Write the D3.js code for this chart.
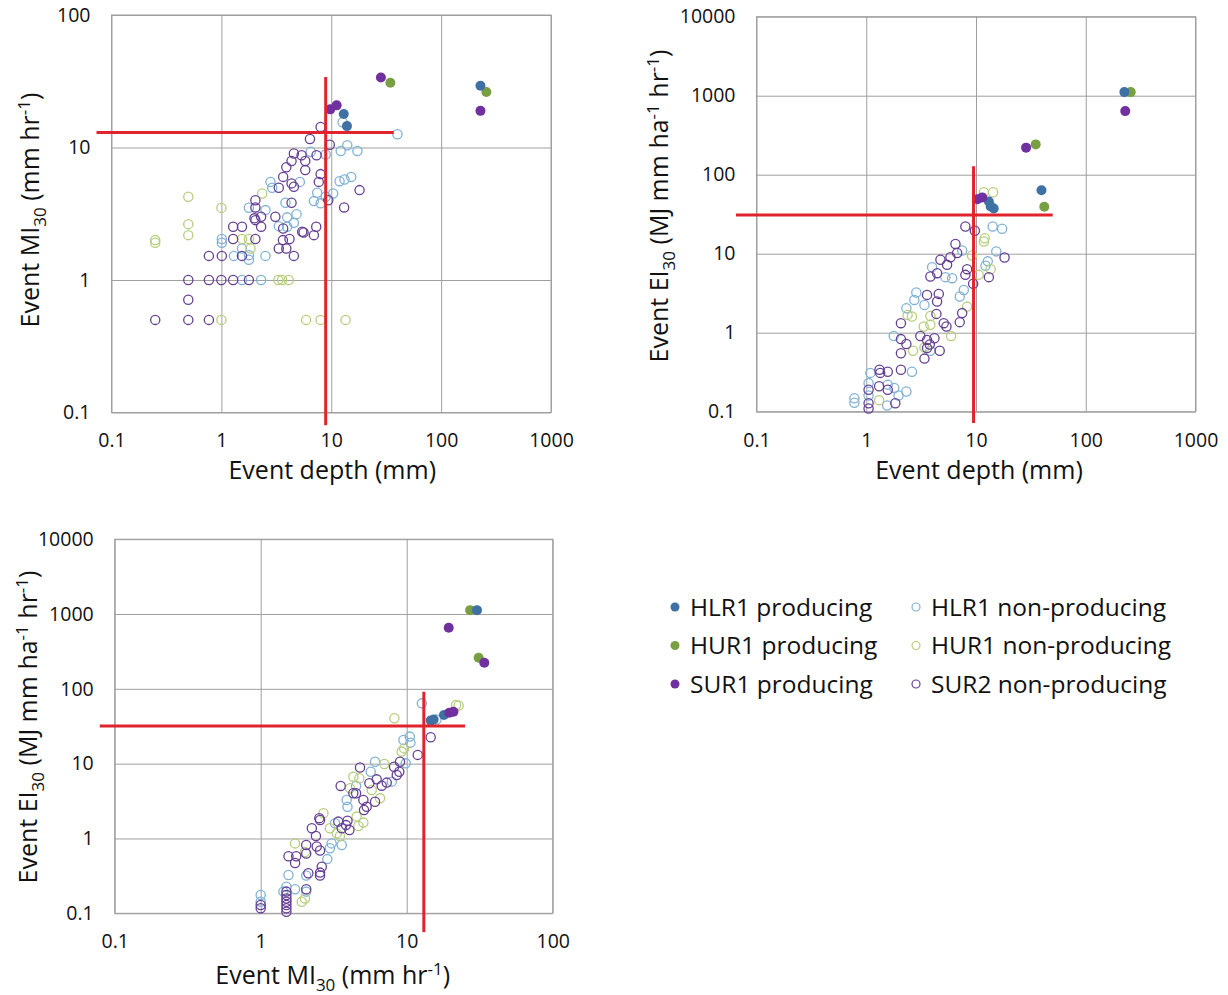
<!DOCTYPE html>
<html>
<head>
<meta charset="utf-8">
<script src="https://cdn.jsdelivr.net/npm/d3@7"></script>
<style>
  html, body { margin: 0; padding: 0; background: #fff; }
  svg text { font-family: "Open Sans", "Noto Sans", sans-serif; fill: #111; }
</style>
</head>
<body>
<svg id="chart" width="1228" height="995"></svg>
<script>
// ---------------- DATA ----------------
const seriesNames = ["HLR1 producing", "HUR1 producing", "SUR1 producing",
                     "HLR1 non-producing", "HUR1 non-producing", "SUR2 non-producing"];

// Panel 1: Event depth (mm) vs Event MI30 (mm hr-1)
const p1_HLR1_prod = [[228,29.2],[13,17.9],[13.9,14.5]];
const p1_HUR1_prod = [[34.5,30.8],[258,26.2]];
const p1_SUR1_prod = [[28.3,33.8],[9.8,19.4],[11.2,20.8],[228,18.9]];
const p1_HLR1_non = [[40,12.6],[12.7,15.5],[14,10.4],[12.2,9.4],[17.3,9.4],[6.5,9.3],[8.9,8.85],[5.18,5.5],[2.8,5.5],[2.9,4.97],[11.9,5.57],[13.2,5.74],[15.2,6.0],[7.45,4.55],[10.4,4.5],[8.9,4.25],[6.95,3.94],[8.0,3.79],[3.83,3.83],[1.78,3.51],[2.52,3.37],[3.33,2.55],[3.97,2.97],[4.83,3.14],[4.57,2.7],[3.97,2.52],[1.01,2.04],[1.01,1.91],[1.54,1.73],[1.78,1.54],[1.78,1.42],[1.3,1.52],[2.52,1.52],[1.54,1.0],[2.3,1.0]];
const p1_HUR1_non = [[2.35,4.5],[1.54,2.04],[1.78,2.04],[1.84,1.73],[3.3,1.0],[3.57,1.0],[4.1,1.0],[1.0,0.5],[5.9,0.5],[8.0,0.5],[13.5,0.5],[0.5,4.25],[0.5,2.64],[0.5,2.18],[0.25,2.0],[0.25,1.91],[1.0,3.5]];
const p1_SUR2_non = [[8.0,14.3],[6.4,11.6],[9.7,10.5],[4.57,9.0],[5.37,8.75],[7.35,8.75],[4.35,7.9],[5.8,7.9],[3.9,7.1],[5.8,6.75],[8.0,6.3],[7.7,5.5],[3.65,6.0],[4.35,5.36],[4.57,5.06],[3.33,4.97],[18.1,4.77],[9.4,4.0],[13.1,3.53],[2.04,4.0],[4.35,3.83],[2.04,3.53],[2.0,2.92],[2.3,3.0],[2.04,2.83],[3.1,3.0],[3.65,2.45],[2.3,2.52],[5.44,2.31],[5.6,2.28],[7.3,2.52],[6.95,2.18],[1.28,2.52],[1.54,2.52],[1.28,2.04],[2.04,2.04],[1.54,1.52],[1.01,1.52],[0.77,1.52],[3.63,2.0],[4.17,2.04],[3.33,1.73],[3.9,1.73],[4.57,1.52],[0.5,1.0],[0.77,1.0],[1.0,1.0],[1.28,1.0],[1.78,1.0],[0.5,0.71],[0.25,0.5],[0.5,0.5],[0.77,0.5]];
const p1_redH = [[0.073,13],[37,13]];
const p1_redV = [[8.9,34],[8.9,0.08]];

// Panel 2: Event depth (mm) vs Event EI30 (MJ mm ha-1 hr-1)
const p2_HLR1_prod = [[225,1110],[39.5,63.5],[13.1,45.9],[13.6,39.7],[14.5,37.4]];
const p2_HUR1_prod = [[257,1110],[35,242],[41.9,39.2]];
const p2_SUR1_prod = [[229,638],[28.6,220],[10.3,49],[11.4,51.6]];
const p2_HLR1_non = [[14.2,22.1],[17.3,20.7],[15.3,10.7],[7.48,11.0],[3.98,6.76],[5.26,5.05],[6.06,4.9],[12.2,7.03],[12.8,8.0],[7.74,3.48],[7.11,2.87],[2.86,3.23],[3.39,2.25],[2.74,2.6],[2.32,2.04],[1.78,0.91],[3.84,0.59],[2.61,0.32],[1.09,0.31],[1.05,0.23],[1.05,0.16],[1.57,0.22],[1.8,0.2],[2.32,0.18],[1.97,0.16],[1.55,0.12],[0.78,0.148],[0.78,0.13]];
const p2_HUR1_non = [[11.8,60],[14.3,60],[12.0,15.7],[11.8,14.3],[9.2,9.5],[13.6,6.37],[10.6,5.4],[8.3,2.14],[2.38,1.68],[2.61,1.6],[3.84,1.63],[3.34,1.2],[3.84,1.26],[5.93,0.91],[2.67,0.59],[3.39,0.65],[1.31,0.14]];
const p2_SUR2_non = [[8.0,22.1],[9.76,19.5],[6.5,13.3],[18.2,8.95],[6.73,10.2],[5.85,9.0],[4.74,8.37],[5.45,7.23],[4.42,5.67],[3.84,5.15],[8.3,6.37],[8.0,5.4],[13.1,5.05],[9.42,4.16],[7.48,1.77],[7.11,1.36],[3.58,3.01],[4.58,3.1],[4.42,2.48],[2.07,1.32],[4.36,1.73],[5.38,1.2],[5.08,1.32],[2.07,0.83],[2.32,0.72],[2.07,0.55],[3.11,0.91],[3.58,0.81],[3.79,0.71],[4.18,0.85],[3.58,0.64],[3.39,0.47],[4.67,0.59],[2.07,0.34],[1.57,0.32],[1.32,0.34],[1.34,0.31],[1.05,0.19],[1.05,0.128],[1.05,0.11],[1.31,0.21],[1.57,0.19],[1.84,0.128]];
const p2_redH = [[0.065,31],[50,31]];
const p2_redV = [[9.5,128],[9.5,0.072]];

// Panel 3: Event MI30 (mm hr-1) vs Event EI30 (MJ mm ha-1 hr-1)
const p3_HLR1_prod = [[30.3,1127],[14.6,37.6],[15.3,39],[18,44.7]];
const p3_HUR1_prod = [[27.2,1127],[31.1,260]];
const p3_SUR1_prod = [[19.4,655],[34,223],[19.6,48],[20.9,49.5]];
const p3_HLR1_non = [[12.7,64],[16.0,39],[10.5,23],[10.6,19.1],[9.5,20.7],[9.85,10.1],[7.9,5.75],[6.07,10.6],[5.67,7.8],[4.5,5.04],[3.88,3.27],[3.93,2.66],[3.23,1.6],[3.59,0.82],[3.06,0.86],[2.98,0.74],[2.86,0.53],[2.05,0.32],[1.55,0.325],[2.05,0.195],[1.72,0.21],[1.43,0.195],[1.5,0.227],[1.0,0.176],[1.0,0.143]];
const p3_HUR1_non = [[8.24,40.4],[21.8,60.8],[22.7,60],[9.6,16],[9.24,14.5],[7.03,9.9],[4.31,6.7],[4.74,6.37],[4.09,4.69],[5.76,4.45],[6.57,3.44],[4.54,1.96],[4.67,1.47],[5.05,1.63],[2.98,1.37],[3.32,1.17],[3.49,1.08],[2.69,2.17],[1.72,0.86],[2.01,0.66],[2.01,0.158],[1.91,0.143]];
const p3_SUR2_non = [[14.6,22.5],[11.9,13.1],[9.0,10.6],[8.19,9.1],[8.9,7.8],[8.55,7.06],[7.3,5.58],[6.74,5.08],[5.55,5.46],[6.23,6.17],[4.79,8.9],[3.53,5.04],[4.31,4.02],[4.5,4.02],[5.05,3.27],[5.32,2.66],[5.1,2.4],[6.07,3.1],[3.93,1.73],[3.84,1.51],[4.05,1.3],[3.4,1.68],[3.59,1.37],[2.55,1.77],[2.52,1.87],[2.24,1.37],[2.39,1.08],[2.05,0.82],[2.05,0.63],[2.42,0.78],[2.55,0.69],[2.62,0.42],[2.55,0.35],[2.55,0.32],[2.12,0.343],[1.55,0.58],[1.75,0.58],[1.72,0.47],[2.05,0.21],[1.5,0.195],[1.5,0.176],[1.5,0.158],[1.5,0.143],[1.5,0.129],[1.5,0.117],[1.5,0.105],[1.0,0.129],[1.0,0.117]];
const p3_redH = [[0.079,31.8],[25.1,31.8]];
const p3_redV = [[13.1,91.5],[13.1,0.056]];

// Tick values
const ticksDepth = [0.1, 1, 10, 100, 1000];
const ticksMI = [0.1, 1, 10, 100];
const ticksMIy = [0.1, 1, 10, 100];
const ticksEI = [0.1, 1, 10, 100, 1000, 10000];

// ---------------- STYLE ----------------
const colors = {
  HLR1_prod: "#3f71a5", HUR1_prod: "#78a043", SUR1_prod: "#7030a0",
  HLR1_non: "#7fb1d6", HUR1_non: "#b5ce7c", SUR2_non: "#653f94"
};
const RED = "#e0232c";
const GRID = "#9f9f9f";

const svg = d3.select("#chart");

function rich(textSel, parts, fs) {
  let shift = 0;
  parts.forEach(([t, k]) => {
    const ts = textSel.append("tspan").text(t);
    const target = k === "sub" ? fs * 0.28 : k === "sup" ? -fs * 0.38 : 0;
    ts.attr("dy", target - shift);
    shift = target;
    if (k) ts.attr("font-size", fs * 0.68);
  });
}

const titleMI = [["Event MI"], ["30", "sub"], [" (mm hr"], ["-1", "sup"], [")"]];
const titleEI = [["Event EI"], ["30", "sub"], [" (MJ mm ha"], ["-1", "sup"], [" hr"], ["-1", "sup"], [")"]];
const titleDepth = [["Event depth (mm)"]];

function panel(cfg) {
  const x = d3.scaleLog().domain([cfg.xt[0], cfg.xt[cfg.xt.length - 1]]).range([cfg.l, cfg.r]);
  const y = d3.scaleLog().domain([cfg.yt[0], cfg.yt[cfg.yt.length - 1]]).range([cfg.b, cfg.t]);
  const g = svg.append("g");
  const fmt = d => String(d);

  // gridlines
  g.append("g").attr("transform", `translate(0,${cfg.b})`)
    .call(d3.axisBottom(x).tickValues(cfg.xt).tickSize(-(cfg.b - cfg.t)).tickFormat(""))
    .call(s => { s.select(".domain").remove(); s.selectAll("line").attr("stroke", GRID).attr("stroke-width", 1); });
  g.append("g").attr("transform", `translate(${cfg.l},0)`)
    .call(d3.axisLeft(y).tickValues(cfg.yt).tickSize(-(cfg.r - cfg.l)).tickFormat(""))
    .call(s => { s.select(".domain").remove(); s.selectAll("line").attr("stroke", GRID).attr("stroke-width", 1); });
  g.append("rect").attr("x", cfg.l).attr("y", cfg.t).attr("width", cfg.r - cfg.l).attr("height", cfg.b - cfg.t)
    .attr("fill", "none").attr("stroke", GRID).attr("stroke-width", 1);

  // tick labels
  g.append("g").attr("transform", `translate(0,${cfg.b + 21})`)
    .call(d3.axisBottom(x).tickValues(cfg.xt).tickSize(0).tickPadding(0).tickFormat(fmt))
    .call(s => { s.select(".domain").remove();
      s.selectAll("text").attr("font-size", 19.5).attr("font-family", "Open Sans").attr("fill", "#111").attr("dy", "0.71em"); });
  g.append("g").attr("transform", `translate(${cfg.l - 21},0)`)
    .call(d3.axisLeft(y).tickValues(cfg.yt).tickSize(0).tickPadding(0).tickFormat(fmt))
    .call(s => { s.select(".domain").remove();
      s.selectAll("text").attr("font-size", 19.5).attr("font-family", "Open Sans").attr("fill", "#111"); });

  // axis titles
  const xt = g.append("text").attr("x", (cfg.l + cfg.r) / 2 + cfg.xtdx).attr("y", cfg.xty)
    .attr("text-anchor", "middle").attr("font-size", 25);
  rich(xt, cfg.xTitle, 25);
  const yt = g.append("text").attr("transform", `translate(${cfg.ytx},${cfg.ytcy}) rotate(-90)`)
    .attr("text-anchor", "middle").attr("font-size", 25);
  rich(yt, cfg.yTitle, 25);

  // points: open first, then filled
  const open = [[cfg.d.HLR1_non, colors.HLR1_non], [cfg.d.HUR1_non, colors.HUR1_non], [cfg.d.SUR2_non, colors.SUR2_non]];
  open.forEach(([arr, c]) => {
    g.append("g").selectAll("circle").data(arr).join("circle")
      .attr("cx", d => x(d[0])).attr("cy", d => y(d[1])).attr("r", 4.6)
      .attr("fill", "none").attr("stroke", c).attr("stroke-width", 1.3);
  });
  const filled = [[cfg.d.HUR1_prod, colors.HUR1_prod], [cfg.d.HLR1_prod, colors.HLR1_prod], [cfg.d.SUR1_prod, colors.SUR1_prod]];
  filled.forEach(([arr, c]) => {
    g.append("g").selectAll("circle").data(arr).join("circle")
      .attr("cx", d => x(d[0])).attr("cy", d => y(d[1])).attr("r", 5)
      .attr("fill", c);
  });

  // red threshold lines
  const line = d3.line().x(d => x(d[0])).y(d => y(d[1]));
  [cfg.redH, cfg.redV].forEach(seg => {
    g.append("path").attr("d", line(seg)).attr("stroke", RED).attr("stroke-width", 3).attr("fill", "none");
  });
}

panel({
  l: 111.5, r: 551, t: 15, b: 412.5, xt: ticksDepth, yt: ticksMIy,
  xTitle: titleDepth, yTitle: titleMI, xty: 479, xtdx: 1, ytx: 39, ytcy: 210,
  d: { HLR1_prod: p1_HLR1_prod, HUR1_prod: p1_HUR1_prod, SUR1_prod: p1_SUR1_prod,
       HLR1_non: p1_HLR1_non, HUR1_non: p1_HUR1_non, SUR2_non: p1_SUR2_non },
  redH: p1_redH, redV: p1_redV
});
panel({
  l: 756.5, r: 1195.5, t: 16.7, b: 411.7, xt: ticksDepth, yt: ticksEI,
  xTitle: titleDepth, yTitle: titleEI, xty: 479, xtdx: 3, ytx: 668, ytcy: 206,
  d: { HLR1_prod: p2_HLR1_prod, HUR1_prod: p2_HUR1_prod, SUR1_prod: p2_SUR1_prod,
       HLR1_non: p2_HLR1_non, HUR1_non: p2_HUR1_non, SUR2_non: p2_SUR2_non },
  redH: p2_redH, redV: p2_redV
});
panel({
  l: 114.7, r: 552.7, t: 539.2, b: 913.3, xt: ticksMI, yt: ticksEI,
  xTitle: titleMI, yTitle: titleEI, xty: 984, xtdx: -1, ytx: 37, ytcy: 727,
  d: { HLR1_prod: p3_HLR1_prod, HUR1_prod: p3_HUR1_prod, SUR1_prod: p3_SUR1_prod,
       HLR1_non: p3_HLR1_non, HUR1_non: p3_HUR1_non, SUR2_non: p3_SUR2_non },
  redH: p3_redH, redV: p3_redV
});

// legend
const legendKeys = ["HLR1_prod", "HUR1_prod", "SUR1_prod", "HLR1_non", "HUR1_non", "SUR2_non"];
const leg = svg.append("g");
legendKeys.forEach((k, i) => {
  const col = Math.floor(i / 3), row = i % 3;
  const mx = col === 0 ? 675 : 916;
  const my = 607 + row * 38.5;
  if (col === 0) leg.append("circle").attr("cx", mx).attr("cy", my).attr("r", 4.5).attr("fill", colors[k]);
  else leg.append("circle").attr("cx", mx).attr("cy", my).attr("r", 4).attr("fill", "none").attr("stroke", colors[k]).attr("stroke-width", 1.2);
  leg.append("text").attr("x", mx + 15).attr("y", my).attr("dy", "0.36em")
    .attr("font-size", 24.5).text(seriesNames[i]);
});
</script>
</body>
</html>
